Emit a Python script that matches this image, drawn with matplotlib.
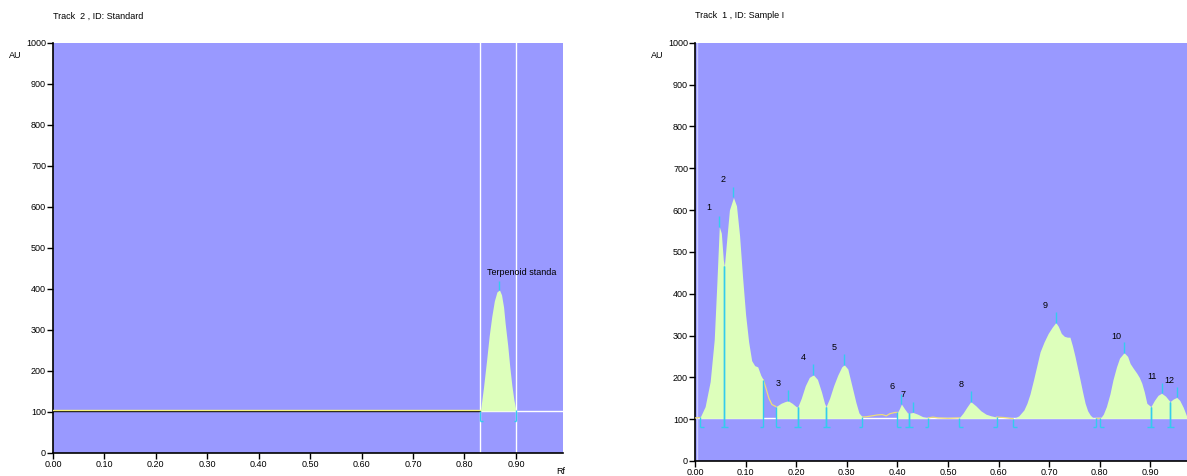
import matplotlib.pyplot as plt
import numpy as np

plt.rcParams["font.family"] = ["Liberation Sans", "DejaVu Sans"]

# ---- Track 2, Standard ----
std_rf = [0.000, 0.831, 0.837, 0.843, 0.848, 0.853, 0.858, 0.863, 0.868, 0.872,
          0.876, 0.879, 0.884, 0.888, 0.892, 0.896, 0.900, 0.950, 0.991]
std_au = [102, 102, 160, 226, 285, 332, 370, 392, 397, 385,
          355, 316, 262, 210, 165, 129, 104, 102, 102]
std_seg = (0.831, 0.900)
std_peak = (0.868, 397)
std_name = "Terpenoid standa"

# ---- Track 1, Sample I ----
smp_rf = [0.000, 0.010, 0.020, 0.030, 0.038, 0.043, 0.048, 0.052, 0.056, 0.058,
          0.062, 0.068, 0.076, 0.082, 0.088, 0.094, 0.100, 0.106, 0.112, 0.118,
          0.124, 0.130, 0.135, 0.140, 0.146, 0.152, 0.160, 0.170, 0.178, 0.184,
          0.192, 0.200, 0.203, 0.210, 0.218, 0.226, 0.234, 0.242, 0.250, 0.256,
          0.259, 0.266, 0.274, 0.282, 0.290, 0.295, 0.302, 0.310, 0.318, 0.324,
          0.331, 0.340, 0.350, 0.360, 0.370, 0.378, 0.385, 0.395, 0.400, 0.404,
          0.408, 0.414, 0.420, 0.423, 0.426, 0.431, 0.440, 0.450, 0.461, 0.470,
          0.480, 0.500, 0.522, 0.530, 0.538, 0.545, 0.555, 0.565, 0.575, 0.585,
          0.596, 0.610, 0.629, 0.640, 0.650, 0.656, 0.662, 0.669, 0.676, 0.682,
          0.690, 0.698, 0.706, 0.713, 0.718, 0.724, 0.730, 0.736, 0.741, 0.746,
          0.751, 0.756, 0.761, 0.766, 0.771, 0.776, 0.781, 0.786, 0.793, 0.801,
          0.807, 0.813, 0.820, 0.826, 0.833, 0.839, 0.848, 0.855, 0.860, 0.866,
          0.873, 0.878, 0.883, 0.888, 0.893, 0.901, 0.908, 0.915, 0.922, 0.930,
          0.936, 0.939, 0.945, 0.952, 0.958, 0.965, 0.972, 0.985]
smp_au = [103, 104, 130, 190, 290, 420, 560, 545, 480, 465,
          520, 600, 630, 610, 540, 440, 350, 285, 240, 228,
          225, 205, 194, 175, 150, 135, 130, 138, 142, 144,
          138, 130, 129, 150, 180, 200, 206, 195, 165, 138,
          130, 150, 180, 205, 225, 230, 220, 180, 140, 115,
          105, 106, 108, 110, 111, 108, 113, 116, 116, 125,
          136, 125, 115, 114, 115, 116, 112, 106, 103, 105,
          103, 102, 103, 115, 130, 142, 132, 120, 112, 108,
          105, 104, 101, 108, 122, 138, 160, 194, 230, 261,
          285, 305, 320, 331, 322, 305, 298, 296, 296, 275,
          250, 222, 194, 165, 138, 120, 110, 104, 102, 102,
          112, 130, 160, 194, 225, 246, 259, 250, 233, 222,
          210, 200, 186, 165, 138, 130, 145, 157, 162, 155,
          146, 142, 148, 152, 145, 128, 106, 101]
segments = [(0.010, 0.058), (0.058, 0.135), (0.160, 0.203), (0.203, 0.259),
            (0.259, 0.331), (0.400, 0.423), (0.423, 0.461), (0.522, 0.596),
            (0.629, 0.793), (0.801, 0.901), (0.901, 0.939), (0.939, 0.985)]
peak_rf = [0.048, 0.076, 0.184, 0.234, 0.295, 0.408, 0.431, 0.545, 0.713, 0.848, 0.922, 0.952]
peak_au = [560, 630, 144, 206, 230, 136, 116, 142, 331, 259, 162, 152]
peak_names = ["1", "2", "3", "4", "5", "6", "7", "8", "9", "10", "11", "12"]
# where the numbers are written (Rf, AU)
name_pos = [(0.028, 606), (0.055, 674), (0.165, 186), (0.214, 247), (0.275, 271),
            (0.389, 179), (0.411, 158), (0.526, 184), (0.692, 372), (0.832, 297),
            (0.903, 202), (0.937, 192)]

BG = "#9999FF"
FILL = "#DDFFBB"
CYAN = "#33CCEE"
TRACE = "#EEDD77"
FS = 6.5

fig = plt.figure(figsize=(11.87, 4.76), dpi=100)
W, H = 1187, 476


def style_axes(ax, xmax):
    ax.set_facecolor(BG)
    ax.set_xlim(0, xmax)
    ax.set_ylim(0, 1000)
    ax.set_yticks(range(0, 1001, 100))
    ax.set_xticks(np.arange(0, 0.95, 0.1))
    ax.set_xticklabels([f"{t:.2f}" for t in np.arange(0, 0.95, 0.1)])
    for s in ["top", "right"]:
        ax.spines[s].set_visible(False)
    for s in ["left", "bottom"]:
        ax.spines[s].set_linewidth(1.2)
    ax.tick_params(direction="out", length=4, width=1, labelsize=FS, pad=1)


def cap_segments(ax, segs, rf, au, ybot, w):
    for s, e in segs:
        for b in (s, e):
            top = np.interp(b, rf, au)
            ax.vlines(b, ybot, top, color=CYAN, lw=1, zorder=4)
        ax.hlines(ybot, s, s + w, color=CYAN, lw=1, zorder=4)
        ax.hlines(ybot, e - w, e, color=CYAN, lw=1, zorder=4)


# left panel
ax1 = fig.add_axes([53 / W, 1 - 452.7 / H, 510 / W, 410 / H])
style_axes(ax1, 0.9915)
rf1 = np.array(std_rf)
au1 = np.array(std_au)
ax1.axhline(102, xmin=std_seg[0] / 0.9915, color="white", lw=1, zorder=2)
ax1.axvline(std_seg[0], color="white", lw=1, zorder=2)
ax1.axvline(std_seg[1], color="white", lw=1, zorder=2)
m = rf1 <= std_seg[0]
ax1.plot(rf1[m], au1[m] - 1, color="black", lw=1, zorder=3)
ax1.plot(rf1[m], au1[m] + 1.5, color="#F5F07A", lw=1, zorder=3)
m = (rf1 >= std_seg[0]) & (rf1 <= std_seg[1])
ax1.fill_between(rf1[m], 102, au1[m], color=FILL, lw=0, zorder=3)
cap_segments(ax1, [std_seg], std_rf, std_au, 78, 0.004)
ax1.vlines(std_peak[0], std_peak[1], std_peak[1] + 22, color=CYAN, lw=1, zorder=4)
ax1.text(0.843, 440, std_name, fontsize=FS, va="center", ha="left")

# right panel
ax2 = fig.add_axes([695 / W, 1 - 461 / H, 506 / W, 418.3 / H])
style_axes(ax2, 1.0)
rf2 = np.array(smp_rf)
au2 = np.array(smp_au, dtype=float)
ax2.axhline(102, color="white", lw=1, zorder=2)
ax2.axvline(0.004, color="#CCCCFF", lw=1, zorder=2)
# the yellow trace only shows where no peak is integrated
inside = np.zeros(len(rf2), dtype=bool)
for s, e in segments:
    inside |= (rf2 > s) & (rf2 < e)
ax2.plot(rf2, np.where(inside, np.nan, au2), color=TRACE, lw=0.9, zorder=3)
for s, e in segments:
    m = (rf2 >= s) & (rf2 <= e)
    ax2.fill_between(rf2[m], 102, au2[m], color=FILL, lw=0, zorder=3)
cap_segments(ax2, segments, smp_rf, smp_au, 82, 0.007)
ax2.vlines(peak_rf, peak_au, np.array(peak_au) + 25, color=CYAN, lw=1, zorder=4)
for name, (x, y) in zip(peak_names, name_pos):
    ax2.text(x, y, name, fontsize=FS, ha="center", va="center")

# figure texts
fig.text(53 / W, 1 - 16 / H, "Track  2 , ID: Standard", fontsize=FS, va="center")
fig.text(695 / W, 1 - 16 / H, "Track  1 , ID: Sample I", fontsize=FS, va="center")
fig.text(15 / W, 1 - 55 / H, "AU", fontsize=FS, ha="center", va="center")
fig.text(657 / W, 1 - 55 / H, "AU", fontsize=FS, ha="center", va="center")
fig.text(561 / W, 1 - 472 / H, "Rf", fontsize=FS, ha="center", va="center")

fig.savefig("out.png", dpi=100)
